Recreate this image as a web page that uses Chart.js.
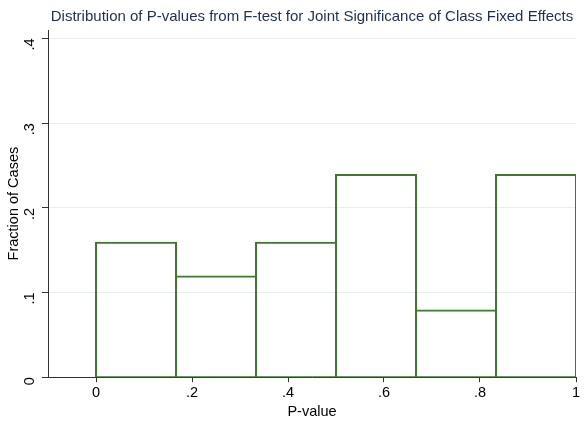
<!DOCTYPE html>
<html>
<head>
<meta charset="utf-8">
<script src="https://cdn.jsdelivr.net/npm/chart.js@4/dist/chart.umd.min.js"></script>
<style>
  html, body { margin: 0; padding: 0; background: #ffffff; }
  #wrap { width: 584px; height: 421px; }
</style>
</head>
<body>
<div id="wrap"><canvas id="histChart"></canvas></div>
<script>
// Histogram bins (centres) and fraction of cases per bin
const binCenters = [1/12, 3/12, 5/12, 7/12, 9/12, 11/12];
const fractions = [0.16, 0.12, 0.16, 0.24, 0.08, 0.24];
const xTicks = [0, 0.2, 0.4, 0.6, 0.8, 1];
const yTicks = [0, 0.1, 0.2, 0.3, 0.4];

const fontFamily = "'Liberation Sans', Arial, sans-serif";
const barColor = '#3d7a2c';
const axisColor = '#333333';
const gridColor = '#eaeeee';

// Stata-style labels: ".2" instead of "0.2"
const stataLabel = v => {
    if (v === 0) return '0';
    if (v === 1) return '1';
    return String(Math.round(v * 10) / 10).replace(/^0/, '');
};

const ctx = document.getElementById('histChart').getContext('2d');

new Chart(ctx, {
    type: 'bar',
    data: {
        datasets: [{
            data: binCenters.map((x, i) => ({ x: x, y: fractions[i] })),
            backgroundColor: 'rgba(255,255,255,0)',
            borderColor: barColor,
            borderWidth: 2,
            borderSkipped: false,
            // slight overlap so the inset borders of neighbouring bins coincide
            barPercentage: 1.025,
            categoryPercentage: 1,
            base: -0.0012
        }]
    },
    options: {
        responsive: true,
        maintainAspectRatio: false,
        animation: false,
        layout: { padding: { top: 0, right: 8, bottom: 0, left: 0 } },
        plugins: {
            legend: { display: false },
            tooltip: { enabled: false },
            title: {
                display: true,
                fullSize: false,
                text: 'Distribution of P-values from F-test for Joint Significance of Class Fixed Effects',
                color: '#1f2f50',
                font: { family: fontFamily, size: 15, weight: 'normal' },
                padding: { top: 8, bottom: 4 }
            }
        },
        scales: {
            x: {
                type: 'linear',
                min: -0.1,
                max: 1,
                offset: false,
                afterBuildTicks: axis => { axis.ticks = xTicks.map(v => ({ value: v })); },
                border: { display: true, color: axisColor, width: 1 },
                grid: { offset: false, drawOnChartArea: false, tickLength: 5, tickColor: axisColor },
                ticks: {
                    color: '#000000',
                    font: { family: fontFamily, size: 14.5 },
                    padding: 2,
                    maxRotation: 0,
                    callback: v => stataLabel(v)
                },
                title: {
                    display: true,
                    text: 'P-value',
                    color: '#000000',
                    font: { family: fontFamily, size: 14.5 },
                    padding: { top: 0, bottom: 0 }
                }
            },
            y: {
                min: 0,
                max: 0.41,
                afterBuildTicks: axis => { axis.ticks = yTicks.map(v => ({ value: v })); },
                afterFit: axis => { axis.width = 48; },
                border: { display: true, color: axisColor, width: 1 },
                grid: { color: gridColor, tickLength: 6, tickColor: axisColor },
                ticks: {
                    color: '#000000',
                    font: { family: fontFamily, size: 14.5 },
                    padding: 12,
                    minRotation: 90,
                    maxRotation: 90,
                    callback: v => stataLabel(v)
                },
                title: {
                    display: true,
                    text: 'Fraction of Cases',
                    color: '#000000',
                    font: { family: fontFamily, size: 14.5 },
                    padding: { top: 5, bottom: 0 }
                }
            }
        }
    }
});
</script>
</body>
</html>
